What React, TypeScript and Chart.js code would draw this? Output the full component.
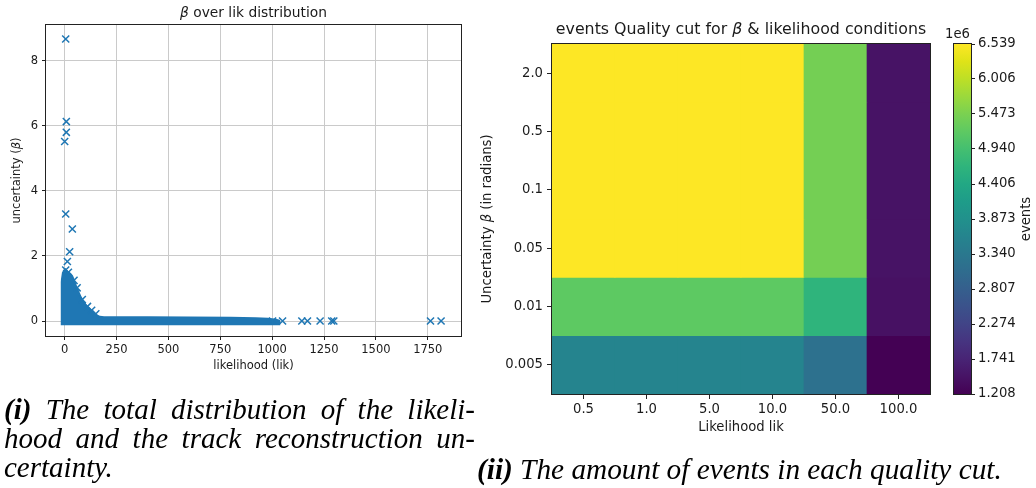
import React, { useEffect, useRef } from 'react';
import { Chart, registerables } from 'chart.js';

Chart.register(...registerables);
Chart.defaults.font.family = '"DejaVu Sans", sans-serif';

// ---------- Left chart data (β over lik distribution) ----------
const likTicks = [0, 250, 500, 750, 1000, 1250, 1500, 1750];
const betaTicks = [0, 2, 4, 6, 8];
// Outline of the dense cloud of points
const cloudLik = [-20, -20, -14, -8, -2, 5, 12, 20, 30, 40, 50, 58, 68, 80, 95, 110, 125, 140, 155, 170, 190, 250, 400, 600, 800, 920, 980, 1020, 1040, 1040];
const cloudBeta = [-0.13, 1.2, 1.45, 1.57, 1.6, 1.62, 1.57, 1.52, 1.48, 1.4, 1.25, 1.1, 0.95, 0.77, 0.6, 0.46, 0.36, 0.27, 0.2, 0.16, 0.15, 0.15, 0.15, 0.14, 0.13, 0.12, 0.1, 0.07, 0.03, -0.13];
// Individual points visible as separate markers
const pointLik = [5, 8, 8, 0, 5, 37, 24, 13, 5, 18, 45, 60, 85, 110, 130, 150, 1002, 1050, 1143, 1170, 1231, 1287, 1297, 1763, 1814];
const pointBeta = [8.67, 6.13, 5.8, 5.52, 3.29, 2.83, 2.13, 1.83, 1.57, 1.5, 1.25, 1.02, 0.66, 0.45, 0.33, 0.22, 0, 0, 0, 0, 0, 0, 0, 0, 0];

// ---------- Right chart data (events per quality cut, ×1e6) ----------
const likCuts = ['0.5', '1.0', '5.0', '10.0', '50.0', '100.0'];
const betaCuts = ['2.0', '0.5', '0.1', '0.05', '0.01', '0.005'];
const eventsBeta2_0 = [6.539, 6.539, 6.539, 6.539, 5.42, 1.47];
const eventsBeta0_5 = [6.539, 6.539, 6.539, 6.539, 5.42, 1.47];
const eventsBeta0_1 = [6.539, 6.539, 6.539, 6.539, 5.42, 1.47];
const eventsBeta0_05 = [6.539, 6.539, 6.539, 6.539, 5.42, 1.47];
const eventsBeta0_01 = [5.2, 5.2, 5.2, 5.2, 4.67, 1.44];
const eventsBeta0_005 = [3.6, 3.6, 3.6, 3.6, 3.18, 1.208];
const eventRows = [eventsBeta2_0, eventsBeta0_5, eventsBeta0_1, eventsBeta0_05, eventsBeta0_01, eventsBeta0_005];
const cbTicks = [1.208, 1.741, 2.274, 2.807, 3.34, 3.873, 4.406, 4.94, 5.473, 6.006, 6.539];
const cbMin = 1.208;
const cbMax = 6.539;

// viridis colormap samples (0 .. 1 step 0.05)
const viridis = ['#440154', '#471365', '#482475', '#463480', '#414487', '#3b528b', '#355f8d', '#2f6c8e', '#2a788e', '#25848e', '#21918c', '#1e9c89', '#22a884', '#2fb47c', '#44bf70', '#5ec962', '#7ad151', '#9bd93c', '#bddf26', '#dfe318', '#fde725'];

function hexToRgb(h: string) {
  return [parseInt(h.slice(1, 3), 16), parseInt(h.slice(3, 5), 16), parseInt(h.slice(5, 7), 16)];
}
function viridisColor(t: number) {
  const c = Math.max(0, Math.min(1, t)) * (viridis.length - 1);
  const i = Math.min(viridis.length - 2, Math.floor(c));
  const f = c - i;
  const a = hexToRgb(viridis[i]);
  const b = hexToRgb(viridis[i + 1]);
  const m = a.map((v, k) => Math.round(v + (b[k] - v) * f));
  return `rgb(${m[0]},${m[1]},${m[2]})`;
}

const C0 = '#1f77b4';
const TXT = '#1a1a1a';
const TICK = 11.5;
const TITLE = 13.8;
const TICK_R = 13.2;
const TITLE_R = 15.8;

type Run = { t: string; it?: boolean };
type Item = {
  runs: Run[];
  size: number;
  pos: (a: any, w: number, h: number) => [number, number];
  rot?: number;
  align?: 'center' | 'left';
};

function textPlugin(id: string, items: Item[]) {
  return {
    id,
    afterDraw(chart: any) {
      const ctx = chart.ctx;
      const a = chart.chartArea;
      items.forEach((it) => {
        ctx.save();
        const fonts = it.runs.map((r) => `${r.it ? 'italic ' : ''}${it.size}px "DejaVu Sans"`);
        let total = 0;
        const ws = it.runs.map((r, i) => {
          ctx.font = fonts[i];
          const w = ctx.measureText(r.t).width;
          total += w;
          return w;
        });
        const [x, y] = it.pos(a, chart.width, chart.height);
        ctx.translate(x, y);
        if (it.rot) ctx.rotate(it.rot);
        ctx.textBaseline = 'middle';
        ctx.textAlign = 'left';
        ctx.fillStyle = TXT;
        let cx = it.align === 'left' ? 0 : -total / 2;
        it.runs.forEach((r, i) => {
          ctx.font = fonts[i];
          ctx.fillText(r.t, cx, 0);
          cx += ws[i];
        });
        ctx.restore();
      });
    },
  };
}

const framePlugin = {
  id: 'frame',
  afterDraw(chart: any) {
    const { ctx, chartArea: a } = chart;
    ctx.save();
    ctx.strokeStyle = '#222';
    ctx.lineWidth = 1;
    ctx.strokeRect(Math.round(a.left) - 0.5, Math.round(a.top) - 0.5, Math.round(a.right - a.left) + 1, Math.round(a.bottom - a.top) + 1);
    ctx.restore();
  },
};

function ScatterChart() {
  const ref = useRef<HTMLCanvasElement>(null);
  useEffect(() => {
    const chart = new Chart(ref.current!, {
      type: 'scatter',
      data: {
        datasets: [
          {
            type: 'line',
            data: cloudLik.map((x, i) => ({ x, y: cloudBeta[i] })),
            showLine: true,
            fill: { value: -0.13 },
            backgroundColor: C0,
            borderColor: C0,
            borderWidth: 0,
            pointRadius: 0,
            tension: 0,
            order: 2,
          } as any,
          {
            data: pointLik.map((x, i) => ({ x, y: pointBeta[i] })),
            pointStyle: 'crossRot',
            pointRadius: 5,
            borderColor: C0,
            backgroundColor: C0,
            borderWidth: 1.5,
            order: 1,
          },
        ],
      },
      options: {
        animation: false,
        responsive: false,
        events: [],
        layout: { padding: { top: 25, right: 14, left: 0, bottom: 0 } },
        plugins: { legend: { display: false }, tooltip: { enabled: false } },
        scales: {
          x: {
            type: 'linear',
            min: -90,
            max: 1910,
            afterBuildTicks: (s: any) => {
              s.ticks = likTicks.map((v) => ({ value: v }));
            },
            afterFit: (s: any) => {
              s.height = 44;
            },
            grid: { color: '#cacaca', lineWidth: 1, tickColor: '#222', tickLength: 4, drawTicks: true },
            border: { display: false },
            ticks: { padding: 3, color: TXT, font: { size: TICK }, maxRotation: 0, autoSkip: false, callback: (v: any) => String(v) },
          },
          y: {
            type: 'linear',
            min: -0.46,
            max: 9.1,
            afterBuildTicks: (s: any) => {
              s.ticks = betaTicks.map((v) => ({ value: v }));
            },
            afterFit: (s: any) => {
              s.width = 46;
            },
            grid: { color: '#cacaca', lineWidth: 1, tickColor: '#222', tickLength: 4, drawTicks: true },
            border: { display: false },
            ticks: { padding: 4, color: TXT, font: { size: TICK }, autoSkip: false, callback: (v: any) => String(v) },
          },
        },
      },
      plugins: [
        framePlugin,
        textPlugin('txtL', [
          { runs: [{ t: 'β', it: true }, { t: ' over lik distribution' }], size: TITLE, pos: (a) => [(a.left + a.right) / 2, 13] },
          { runs: [{ t: 'likelihood (lik)' }], size: TICK, pos: (a) => [(a.left + a.right) / 2, 366] },
          { runs: [{ t: 'uncertainty (' }, { t: 'β', it: true }, { t: ')' }], size: TICK, rot: -Math.PI / 2, pos: (a) => [17, (a.top + a.bottom) / 2] },
        ]),
      ],
    });
    return () => chart.destroy();
  }, []);
  return <canvas ref={ref} width={475} height={380} style={{ position: 'absolute', left: 0, top: 0, width: 475, height: 380 }} />;
}

function HeatmapChart() {
  const ref = useRef<HTMLCanvasElement>(null);
  useEffect(() => {
    const chart = new Chart(ref.current!, {
      type: 'bar',
      data: {
        labels: likCuts,
        datasets: eventRows.map((row) => ({
          data: likCuts.map(() => 1),
          backgroundColor: row.map((v) => viridisColor((v - cbMin) / (cbMax - cbMin))),
          borderWidth: 0,
          barPercentage: 1,
          categoryPercentage: 1,
        })),
      },
      options: {
        animation: false,
        responsive: false,
        events: [],
        layout: { padding: { top: 44, right: 10, left: 0, bottom: 0 } },
        plugins: { legend: { display: false }, tooltip: { enabled: false } },
        scales: {
          x: {
            stacked: true,
            afterFit: (s: any) => {
              s.height = 46;
            },
            grid: { display: true, drawOnChartArea: false, offset: false, tickColor: '#222', tickLength: 5 },
            border: { display: false },
            ticks: { padding: 3, color: TXT, font: { size: TICK_R }, maxRotation: 0, autoSkip: false },
          },
          y: {
            stacked: true,
            min: 0,
            max: 6,
            reverse: true,
            afterBuildTicks: (s: any) => {
              s.ticks = betaCuts.map((_, i) => ({ value: i + 0.5 }));
            },
            afterFit: (s: any) => {
              s.width = 82;
            },
            grid: { display: true, drawOnChartArea: false, tickColor: '#222', tickLength: 5 },
            border: { display: false },
            ticks: { padding: 4, color: TXT, font: { size: TICK_R }, autoSkip: false, callback: (_v: any, i: number) => betaCuts[i] },
          },
        },
      },
      plugins: [
        framePlugin,
        textPlugin('txtH', [
          { runs: [{ t: 'events Quality cut for ' }, { t: 'β', it: true }, { t: ' & likelihood conditions' }], size: TITLE_R, pos: (a) => [(a.left + a.right) / 2, 30] },
          { runs: [{ t: 'Likelihood lik' }], size: TICK_R, pos: (a) => [(a.left + a.right) / 2, 428] },
          { runs: [{ t: 'Uncertainty ' }, { t: 'β', it: true }, { t: ' (in radians)' }], size: TICK_R, rot: -Math.PI / 2, pos: (a) => [18, (a.top + a.bottom) / 2] },
        ]),
      ],
    });
    return () => chart.destroy();
  }, []);
  return <canvas ref={ref} width={470} height={440} style={{ position: 'absolute', left: 470, top: 0, width: 470, height: 440 }} />;
}

function ColorbarChart() {
  const ref = useRef<HTMLCanvasElement>(null);
  useEffect(() => {
    const chart = new Chart(ref.current!, {
      type: 'bar',
      data: {
        labels: [''],
        datasets: [
          {
            data: [[cbMin, cbMax]] as any,
            backgroundColor: (ctx: any) => {
              const area = ctx.chart.chartArea;
              if (!area) return viridis[0];
              const g = ctx.chart.ctx.createLinearGradient(0, area.bottom, 0, area.top);
              viridis.forEach((c, i) => g.addColorStop(i / (viridis.length - 1), c));
              return g;
            },
            borderWidth: 0,
            barPercentage: 1,
            categoryPercentage: 1,
          },
        ],
      },
      options: {
        animation: false,
        responsive: false,
        events: [],
        layout: { padding: { top: 44, right: 0, left: 10, bottom: 46 } },
        plugins: { legend: { display: false }, tooltip: { enabled: false } },
        scales: {
          x: { display: false },
          y: {
            position: 'right',
            min: cbMin,
            max: cbMax,
            afterBuildTicks: (s: any) => {
              s.ticks = cbTicks.map((v) => ({ value: v }));
            },
            afterFit: (s: any) => {
              s.width = 65;
            },
            grid: { display: true, drawOnChartArea: false, tickColor: '#222', tickLength: 4 },
            border: { display: false },
            ticks: { padding: 3, color: TXT, font: { size: TICK_R }, autoSkip: false, callback: (v: any) => Number(v).toFixed(3) },
          },
        },
      },
      plugins: [
        framePlugin,
        textPlugin('txtC', [
          { runs: [{ t: '1e6' }], size: TICK_R, align: 'left', pos: () => [1, 35] },
          { runs: [{ t: 'events' }], size: TICK_R, rot: -Math.PI / 2, pos: (a) => [83, (a.top + a.bottom) / 2] },
        ]),
      ],
    });
    return () => chart.destroy();
  }, []);
  return <canvas ref={ref} width={92} height={440} style={{ position: 'absolute', left: 944, top: 0, width: 92, height: 440 }} />;
}

const capStyle: React.CSSProperties = {
  fontFamily: '"Liberation Serif", serif',
  fontStyle: 'italic',
  fontSize: 29,
  lineHeight: '29px',
  color: '#000',
};

export default function App() {
  return (
    <div style={{ position: 'absolute', left: 0, top: 0, width: 1036, height: 488, background: '#fff', overflow: 'hidden' }}>
      <ScatterChart />
      <HeatmapChart />
      <ColorbarChart />
      <div style={{ ...capStyle, position: 'absolute', left: 4, top: 395, width: 471 }}>
        <div style={{ textAlign: 'justify', textAlignLast: 'justify' as any }}>
          <b>(i)</b> The total distribution of the likeli-
        </div>
        <div style={{ textAlign: 'justify', textAlignLast: 'justify' as any }}>hood and the track reconstruction un-</div>
        <div>certainty.</div>
      </div>
      <div style={{ ...capStyle, fontSize: 29.3, position: 'absolute', left: 477, top: 455, whiteSpace: 'nowrap' }}>
        <b>(ii)</b> The amount of events in each quality cut.
      </div>
    </div>
  );
}
